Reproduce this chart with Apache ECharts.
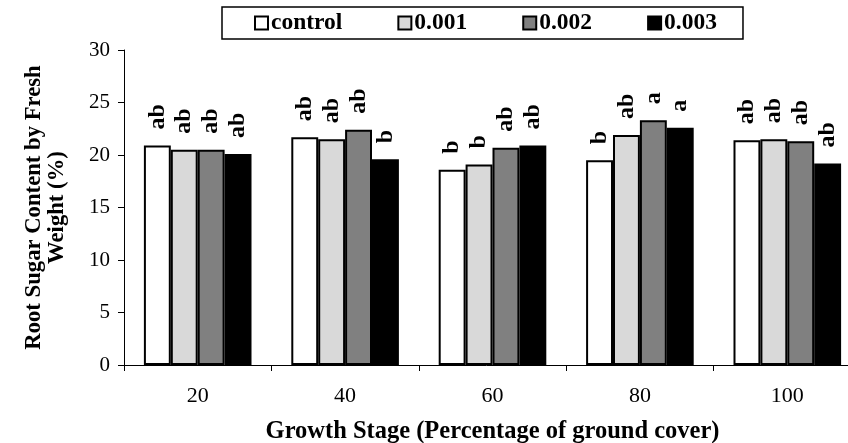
<!DOCTYPE html>
<html>
<head>
<meta charset="utf-8">
<script src="https://cdn.jsdelivr.net/npm/echarts@6/dist/echarts.min.js"></script>
<style>html,body{margin:0;padding:0;background:#fff}#c{width:848px;height:443px}</style>
</head>
<body>
<div id="c"></div>
<script>
const categories = ['20', '40', '60', '80', '100'];
const seriesNames = ['control', '0.001', '0.002', '0.003'];
const control = [20.9, 21.7, 18.6, 19.5, 21.4];
const c001 = [20.5, 21.5, 19.1, 21.9, 21.5];
const c002 = [20.5, 22.4, 20.7, 23.3, 21.3];
const c003 = [20.1, 19.6, 20.9, 22.6, 19.2];
const letControl = ['ab', 'ab', 'b', 'b', 'ab'];
const let001 = ['ab', 'ab', 'b', 'ab', 'ab'];
const let002 = ['ab', 'ab', 'ab', 'a', 'ab'];
const let003 = ['ab', 'b', 'ab', 'a', 'ab'];
const yTicks = [0, 5, 10, 15, 20, 25, 30];

const values = [control, c001, c002, c003];
const letters = [letControl, let001, let002, let003];
const colors = ['#ffffff', '#d9d9d9', '#808080', '#000000'];
const serif = '"Liberation Serif", "Times New Roman", serif';

const chart = echarts.init(document.getElementById('c'), null, {renderer: 'canvas'});
chart.setOption({
  animation: false,
  backgroundColor: '#fff',
  legend: {
    data: seriesNames,
    left: 222, top: 7,
    padding: [4, 26, 4, 32],
    borderColor: '#000', borderWidth: 1.5,
    itemWidth: 13, itemHeight: 13, itemGap: 55,
    icon: 'rect',
    textStyle: {fontFamily: serif, fontWeight: 'bold', fontSize: 23.5, color: '#000', padding: [0, 0, 0, -2]}
  },
  grid: {left: 124, width: 737, top: 50, bottom: 78, containLabel: false, outerBoundsMode: 'none'},
  xAxis: {
    type: 'category', data: categories,
    axisLine: {lineStyle: {color: '#000', width: 1}},
    axisTick: {show: true, length: 6, lineStyle: {color: '#000'}},
    axisLabel: {fontFamily: serif, fontSize: 22, color: '#000', margin: 20},
    name: 'Growth Stage (Percentage of ground cover)',
    nameLocation: 'middle', nameGap: 54,
    nameTextStyle: {fontFamily: serif, fontWeight: 'bold', fontSize: 24.5, color: '#000'}
  },
  yAxis: {
    type: 'value', min: 0, max: 30, interval: 5,
    axisLine: {show: true, lineStyle: {color: '#000', width: 1}},
    axisTick: {show: true, length: 6, lineStyle: {color: '#000'}},
    splitLine: {show: false},
    axisLabel: {fontFamily: serif, fontSize: 21, color: '#000', margin: 14,
      formatter: v => yTicks.includes(v) ? String(v) : ''},
    name: 'Root Sugar Content by Fresh\nWeight (%)',
    nameLocation: 'middle', nameGap: 55, nameRotate: 90,
    nameTextStyle: {fontFamily: serif, fontWeight: 'bold', fontSize: 22.7, color: '#000', lineHeight: 23}
  },
  series: seriesNames.map((n, i) => ({
    name: n, type: 'bar',
    data: values[i].map((v, j) => ({value: v, letter: letters[i][j]})),
    barGap: '0%', barCategoryGap: '27%',
    itemStyle: {color: colors[i], borderColor: '#000', borderWidth: 2},
    label: {
      show: true, position: 'top', rotate: 90, distance: 16,
      align: 'left', verticalAlign: 'middle',
      fontFamily: serif, fontWeight: 'bold', fontSize: 24, color: '#000',
      formatter: p => p.data.letter
    }
  }))
});
</script>
</body>
</html>
